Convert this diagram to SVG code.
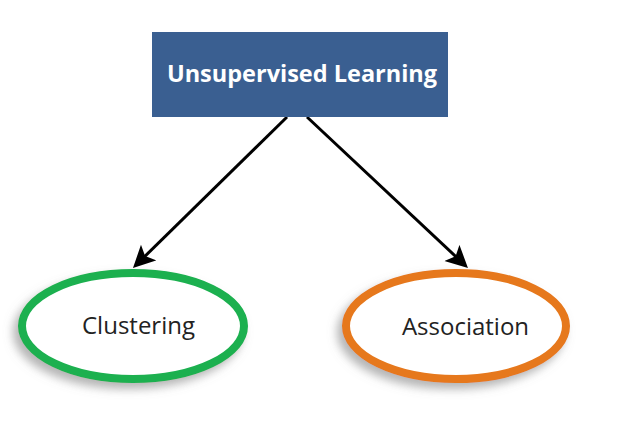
<svg xmlns="http://www.w3.org/2000/svg" width="625" height="426" viewBox="0 0 625 426">
<style>
.title{font-family:"Open Sans","Liberation Sans",sans-serif;font-weight:bold;font-size:23.5px;fill:#ffffff}
.lbl{font-family:"Open Sans","Liberation Sans",sans-serif;font-size:24px;fill:#222222}
.ell{fill:#ffffff;stroke-width:8;filter:url(#sh)}
.conn{stroke:#000;stroke-width:3;fill:none;marker-end:url(#ah)}
</style>
<defs>
<filter id="sh" x="-20%" y="-20%" width="140%" height="150%">
<feDropShadow dx="-5" dy="6" stdDeviation="5" flood-color="#777" flood-opacity="0.55"/>
</filter>
<marker id="ah" markerUnits="userSpaceOnUse" markerWidth="24" markerHeight="24" refX="13" refY="11" orient="auto">
<path d="M0,0 L22,11 L0,22 L5,11 Z" fill="#000"/>
</marker>
</defs>
<rect width="625" height="426" fill="#fff"/>
<g id="connectors">
<line class="conn" x1="287" y1="117" x2="139.4" y2="261.7"/>
<line class="conn" x1="307" y1="117" x2="461.4" y2="261.8"/>
</g>
<g id="unsupervised">
<rect x="152" y="32" width="296" height="85" fill="#3a5f91"/>
<text class="title" x="302" y="82" text-anchor="middle">Unsupervised Learning</text>
</g>
<g id="clustering">
<ellipse class="ell" cx="133" cy="326" rx="111" ry="53" stroke="#1ab04f"/>
<text class="lbl" x="138.5" y="334" text-anchor="middle">Clustering</text>
</g>
<g id="association">
<ellipse class="ell" cx="456" cy="326" rx="110" ry="53" stroke="#e6781c"/>
<text class="lbl" x="465.5" y="335" text-anchor="middle">Association</text>
</g>
</svg>
